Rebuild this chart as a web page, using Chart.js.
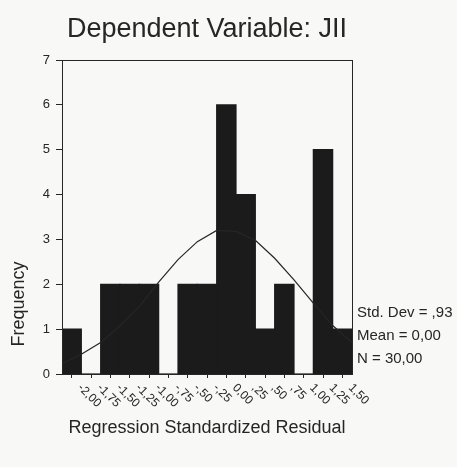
<!DOCTYPE html>
<html>
<head>
<meta charset="utf-8">
<script src="https://cdn.jsdelivr.net/npm/chart.js@4.4.0/dist/chart.umd.min.js"></script>
<style>
  html, body { margin: 0; padding: 0; background: #f8f8f7; }
  #wrap { width: 457px; height: 467px; }
</style>
</head>
<body>
<div id="wrap"><canvas id="chart"></canvas></div>
<script>
// histogram bins (bin centres) and counts
const binCentres = [-2.0, -1.75, -1.5, -1.25, -1.0, -0.75, -0.5, -0.25, 0.0, 0.25, 0.5, 0.75, 1.0, 1.25, 1.5];
const binLabels = ["-2,00", "-1,75", "-1,50", "-1,25", "-1,00", "-,75", "-,50", "-,25", "0,00", ",25", ",50", ",75", "1,00", "1,25", "1,50"];
const frequency = [1, 0, 2, 2, 2, 0, 2, 2, 6, 4, 1, 2, 0, 5, 1];

// normal curve, at the bin edges
const curveX = [-2.125, -1.875, -1.625, -1.375, -1.125, -0.875, -0.625, -0.375, -0.125, 0.125, 0.375, 0.625, 0.875, 1.125, 1.375, 1.625];
const curveY = [0.23, 0.44, 0.7, 1.07, 1.5, 2.05, 2.55, 2.95, 3.2, 3.18, 2.98, 2.58, 2.1, 1.58, 1.08, 0.7];

const stats = ["Std. Dev = ,93", "Mean = 0,00", "N = 30,00"];

const ink = "#262626";
const font = "'Liberation Sans', Arial, sans-serif";

const chart = document.querySelector("#chart");

// frame box, rotated x labels, y title, stats text
const extras = {
  id: "extras",
  afterDraw(c) {
    const ctx = c.ctx;
    const a = c.chartArea;
    const x = c.scales.x;
    ctx.save();
    ctx.strokeStyle = ink;
    ctx.lineWidth = 1;
    ctx.strokeRect(a.left + 0.5, a.top + 0.5, a.right - a.left, a.bottom - a.top);

    ctx.fillStyle = ink;
    ctx.font = "12px " + font;
    ctx.textAlign = "left";
    ctx.textBaseline = "middle";
    binCentres.forEach((v, i) => {
      ctx.save();
      ctx.translate(x.getPixelForValue(v) + 8, a.bottom + 12);
      ctx.rotate(Math.PI / 4);
      ctx.fillText(binLabels[i], 0, 0);
      ctx.restore();
    });

    // y axis title
    ctx.save();
    ctx.font = "18px " + font;
    ctx.textAlign = "center";
    ctx.translate(19, 304);
    ctx.rotate(-Math.PI / 2);
    ctx.fillText("Frequency", 0, 0);
    ctx.restore();

    ctx.font = "15px " + font;
    stats.forEach((s, i) => {
      ctx.fillText(s, a.right + 5, 313 + i * 23);
    });
    ctx.restore();
  }
};

new Chart(chart, {
  type: "bar",
  data: {
    datasets: [
      {
        type: "line",
        data: curveX.map((v, i) => ({ x: v, y: curveY[i] })),
        borderColor: ink,
        borderWidth: 1.2,
        pointRadius: 0,
        tension: 0,
        order: 0,
      },
      {
        data: binCentres.map((v, i) => ({ x: v, y: frequency[i] })),
        backgroundColor: "#1b1b1b",
        borderWidth: 0,
        inflateAmount: 0.6,
        barPercentage: 1,
        categoryPercentage: 1,
        order: 1,
      },
    ],
  },
  options: {
    responsive: true,
    maintainAspectRatio: false,
    animation: false,
    layout: { padding: { left: 2, right: 105, top: 0, bottom: 28 } },
    plugins: {
      legend: { display: false },
      tooltip: { enabled: false },
      title: {
        display: true,
        text: "Dependent Variable: JII",
        fullSize: false,
        color: ink,
        font: { family: font, size: 27, weight: "normal" },
        padding: { top: 13, bottom: 14.6 },
      },
    },
    scales: {
      x: {
        type: "linear",
        min: -2.125,
        max: 1.625,
        offset: false,
        afterBuildTicks: (s) => { s.ticks = binCentres.map((v) => ({ value: v })); },
        afterFit: (s) => { s.height = 65; },
        ticks: { display: false },
        grid: { offset: false, drawOnChartArea: false, tickLength: 4, color: ink },
        border: { color: ink },
        title: {
          display: true,
          text: "Regression Standardized Residual",
          color: ink,
          font: { family: font, size: 18 },
          padding: { top: 0, bottom: 0 },
        },
      },
      y: {
        min: 0,
        max: 7,
        afterFit: (s) => { s.width = 60; },
        ticks: { stepSize: 1, color: ink, padding: 6, font: { family: font, size: 13 } },
        grid: { drawOnChartArea: false, tickLength: 6, color: ink },
        border: { color: ink },
      },
    },
  },
  plugins: [extras],
});
</script>
</body>
</html>
